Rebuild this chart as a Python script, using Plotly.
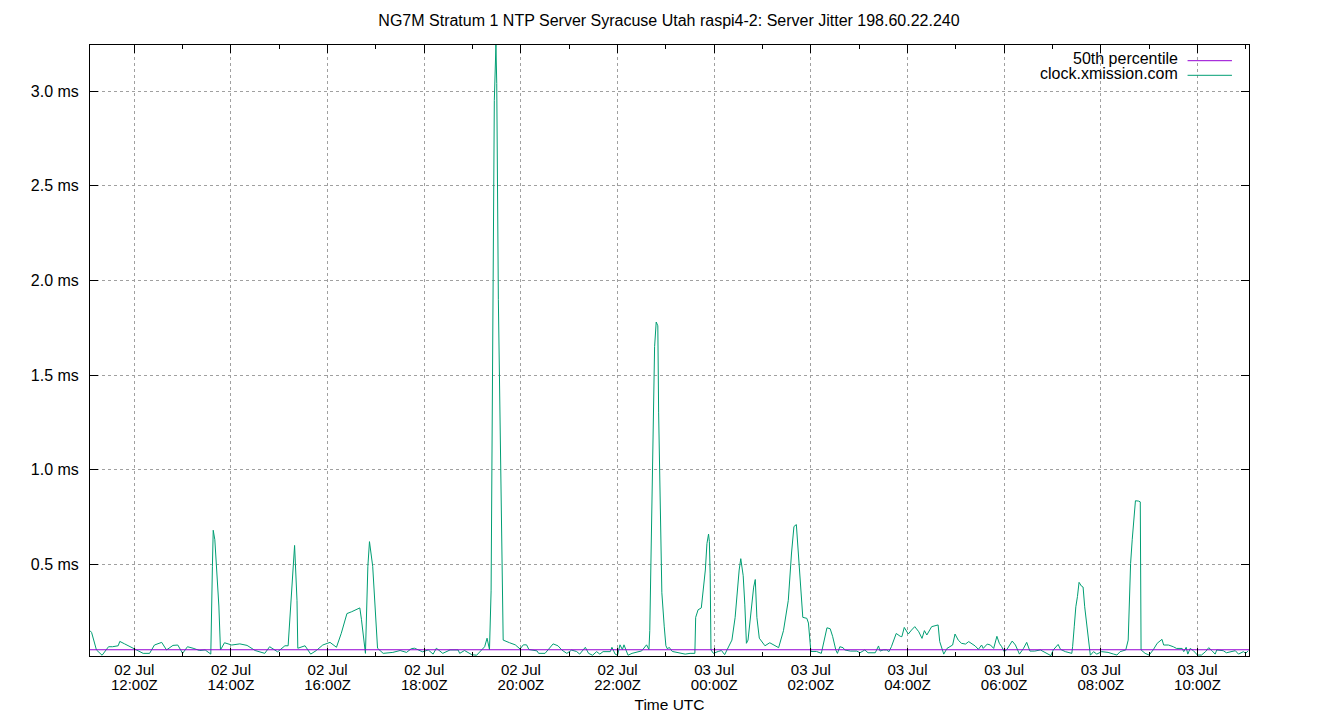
import pandas as pd
import plotly.graph_objects as go

# Datos (minutos desde 02 Jul 11:00Z, jitter en ms)
minutes = [
    5, 7, 13, 20, 28, 33, 40, 42, 48, 58, 71, 79, 85, 94, 100, 108, 114, 120, 126, 133,
    141, 148, 155, 157, 158, 160, 165, 167, 172, 181, 191, 200, 210, 222, 228, 238, 247, 251, 257, 259,
    262, 263, 272, 279, 286, 294, 303, 311, 317, 324, 330, 336, 340, 342, 347, 350, 352, 356, 359, 362,
    369, 381, 390, 398, 404, 408, 418, 425, 431, 435, 443, 452, 462, 464, 470, 479, 485, 489, 495, 498,
    501, 503, 505, 507, 509, 510, 512, 515, 517, 518, 526, 533, 539, 543, 547, 550, 560, 562, 570, 574,
    580, 586, 591, 597, 603, 609, 613, 620, 624, 629, 634, 638, 642, 651, 653, 657, 660, 663, 666, 668,
    673, 678, 684, 690, 696, 699, 700, 702, 704, 706, 708, 710, 711, 713, 715, 718, 720, 722, 724, 728,
    733, 740, 744, 750, 756, 757, 760, 764, 766, 769, 771, 773, 774, 775, 776, 779, 785, 789, 793, 798,
    802, 806, 809, 811, 813, 816, 818, 820, 822, 825, 829, 831, 833, 836, 843, 849, 855, 860, 866, 872,
    876, 879, 882, 884, 887, 890, 895, 897, 900, 907, 913, 915, 920, 924, 927, 931, 933, 936, 940, 942,
    949, 957, 961, 967, 971, 980, 984, 986, 990, 994, 997, 1000, 1006, 1011, 1013, 1016, 1021, 1025, 1029, 1034,
    1038, 1041, 1044, 1050, 1057, 1058, 1060, 1065, 1069, 1073, 1076, 1079, 1083, 1087, 1092, 1096, 1099, 1104, 1108, 1112,
    1114, 1119, 1123, 1127, 1131, 1134, 1137, 1140, 1143, 1150, 1154, 1159, 1164, 1168, 1172, 1178, 1185, 1191, 1198, 1201,
    1207, 1210, 1216, 1224, 1225, 1227, 1229, 1231, 1233, 1236, 1238, 1240, 1243, 1246, 1247, 1251, 1255, 1261, 1269, 1276,
    1280, 1284, 1291, 1294, 1295, 1297, 1299, 1301, 1303, 1307, 1309, 1310, 1315, 1320, 1325, 1330, 1336, 1338, 1344, 1350,
    1354, 1361, 1363, 1366, 1368, 1371, 1375, 1380, 1385, 1390, 1394, 1398, 1402, 1404, 1412, 1416, 1423, 1427, 1431, 1437,
    1440, 1443,
]
jitter_ms = [
    0.15, 0.14, 0.048, 0.02, 0.065, 0.065, 0.07, 0.093, 0.08, 0.06, 0.03, 0.03, 0.074, 0.088, 0.048, 0.072, 0.074, 0.03, 0.065, 0.057,
    0.045, 0.048, 0.026, 0.49, 0.68, 0.63, 0.28, 0.048, 0.086, 0.074, 0.08, 0.072, 0.045, 0.03, 0.065, 0.038, 0.07, 0.07, 0.49, 0.60,
    0.31, 0.057, 0.07, 0.026, 0.045, 0.074, 0.088, 0.062, 0.136, 0.24, 0.25, 0.26, 0.27, 0.21, 0.03, 0.49, 0.62, 0.49, 0.26, 0.057,
    0.03, 0.035, 0.045, 0.035, 0.055, 0.057, 0.038, 0.048, 0.026, 0.057, 0.03, 0.048, 0.048, 0.03, 0.045, 0.023, 0.02, 0.039, 0.065, 0.11,
    0.05, 0.36, 1.6, 2.95, 3.243, 3.04, 1.9, 1.0, 0.30, 0.10, 0.086, 0.075, 0.053, 0.075, 0.075, 0.05, 0.043, 0.03, 0.03, 0.05,
    0.08, 0.07, 0.047, 0.03, 0.047, 0.04, 0.026, 0.062, 0.03, 0.02, 0.039, 0.026, 0.039, 0.039, 0.062, 0.026, 0.02, 0.075, 0.05, 0.075,
    0.02, 0.03, 0.035, 0.043, 0.075, 0.05, 0.15, 0.7, 1.2, 1.65, 1.78, 1.76, 1.3, 0.75, 0.35, 0.17, 0.07, 0.053, 0.062, 0.04,
    0.035, 0.03, 0.026, 0.03, 0.03, 0.22, 0.26, 0.27, 0.36, 0.47, 0.61, 0.66, 0.62, 0.45, 0.048, 0.03, 0.04, 0.045, 0.023, 0.065,
    0.10, 0.22, 0.38, 0.47, 0.53, 0.44, 0.29, 0.083, 0.10, 0.22, 0.38, 0.42, 0.22, 0.11, 0.07, 0.086, 0.07, 0.06, 0.15, 0.31,
    0.56, 0.70, 0.71, 0.58, 0.44, 0.22, 0.215, 0.19, 0.04, 0.04, 0.03, 0.065, 0.165, 0.16, 0.12, 0.048, 0.03, 0.065, 0.06, 0.048,
    0.042, 0.042, 0.033, 0.048, 0.033, 0.033, 0.069, 0.042, 0.048, 0.048, 0.039, 0.065, 0.135, 0.12, 0.118, 0.167, 0.132, 0.153, 0.171, 0.144,
    0.109, 0.15, 0.127, 0.171, 0.178, 0.18, 0.092, 0.026, 0.056, 0.065, 0.074, 0.132, 0.10, 0.083, 0.079, 0.092, 0.083, 0.069, 0.051, 0.074,
    0.056, 0.079, 0.074, 0.056, 0.12, 0.083, 0.065, 0.039, 0.048, 0.095, 0.074, 0.026, 0.056, 0.088, 0.042, 0.042, 0.048, 0.033, 0.018, 0.048,
    0.077, 0.051, 0.039, 0.03, 0.065, 0.17, 0.276, 0.33, 0.405, 0.385, 0.38, 0.276, 0.17, 0.048, 0.02, 0.039, 0.026, 0.039, 0.035, 0.026,
    0.021, 0.039, 0.048, 0.10, 0.276, 0.505, 0.63, 0.734, 0.836, 0.834, 0.83, 0.048, 0.03, 0.021, 0.048, 0.083, 0.104, 0.074, 0.074, 0.065,
    0.056, 0.056, 0.039, 0.062, 0.026, 0.056, 0.044, 0.021, 0.021, 0.039, 0.06, 0.044, 0.026, 0.048, 0.044, 0.033, 0.039, 0.044, 0.026, 0.039,
    0.03, 0.044,
]
median_ms = 0.049
range_minutes = [5, 1444]
y_range = [0.016, 3.243]

start = pd.Timestamp("2023-07-02 11:00")
times = start + pd.to_timedelta(minutes, unit="min")
x_ends = start + pd.to_timedelta(range_minutes, unit="min")

FONT = "Liberation Sans, Arial, sans-serif"
PURPLE = "#9400d3"
TEAL = "#009e73"
TWO_HOURS = 2 * 3600 * 1000

fig = go.Figure()

# Serie del servidor
fig.add_trace(go.Scatter(
    x=times, y=jitter_ms, mode="lines",
    line=dict(color=TEAL, width=1),
    name="clock.xmission.com",
))

# Mediana
fig.add_trace(go.Scatter(
    x=x_ends, y=[median_ms, median_ms], mode="lines",
    line=dict(color=PURPLE, width=1.2),
    name="50th percentile",
))

# Traza vacia para el eje x2 (segunda linea de etiquetas: hora)
fig.add_trace(go.Scatter(x=[], y=[], xaxis="x2", showlegend=False, hoverinfo="skip"))

# La pagina deja 8 px de margen en el body: se descuentan aqui
fig.update_layout(
    width=1332, height=712,
    margin=dict(l=82, r=91, t=37, b=64),
    paper_bgcolor="white", plot_bgcolor="white",
    font=dict(family=FONT, size=16, color="black"),
    showlegend=False,
    title=dict(
        text="NG7M Stratum 1 NTP Server Syracuse Utah raspi4-2: Server Jitter 198.60.22.240",
        x=(669 - 8) / 1332, xanchor="center", y=1 - 12 / 712, yanchor="middle",
        font=dict(size=16),
    ),
    xaxis=dict(
        type="date", range=list(x_ends),
        tick0="2023-07-02 00:00", dtick=TWO_HOURS,
        tickformat="%d %b", tickfont=dict(size=15),
        ticks="inside", ticklen=8, tickcolor="black",
        showline=True, linecolor="black", linewidth=1, mirror="ticks",
        showgrid=True, gridcolor="#a0a0a0", griddash="dot", gridwidth=1,
        zeroline=False, automargin=False,
        minor=dict(dtick=3600 * 1000, ticks="inside", ticklen=4, tickcolor="black", showgrid=False),
    ),
    xaxis2=dict(
        type="date", overlaying="x", anchor="y", side="bottom",
        range=list(x_ends), tick0="2023-07-02 00:00", dtick=TWO_HOURS,
        tickformat="%H:%MZ", tickfont=dict(size=15),
        ticks="", showgrid=False, showline=False, zeroline=False,
        ticklabelstandoff=18, automargin=False,
        title=dict(text="Time UTC", standoff=7, font=dict(size=15.5)),
    ),
)

fig.update_yaxes(
    range=y_range,
    tick0=0, dtick=0.5, tickformat=".1f", ticksuffix=" ms",
    ticks="inside", ticklen=8, tickcolor="black",
    showline=True, linecolor="black", linewidth=1, mirror="ticks",
    showgrid=True, gridcolor="#a0a0a0", griddash="dot", gridwidth=1,
    zeroline=False,
    ticklabelstandoff=7,
)

# Leyenda estilo gnuplot (texto a la izquierda, muestra de linea a la derecha)
legend_items = [("50th percentile", PURPLE, 0.9787, 0.9743),
                ("clock.xmission.com", TEAL, 0.9541, 0.9504)]
for label, color, ty, ly in legend_items:
    fig.add_annotation(
        text=label, xref="paper", yref="paper",
        x=0.9405, y=ty, xanchor="right", yanchor="middle",
        showarrow=False, font=dict(size=16),
    )
    fig.add_shape(
        type="line", xref="paper", yref="paper",
        x0=0.947, x1=0.9853, y0=ly, y1=ly,
        line=dict(color=color, width=1),
    )

fig.write_html("out.html")
